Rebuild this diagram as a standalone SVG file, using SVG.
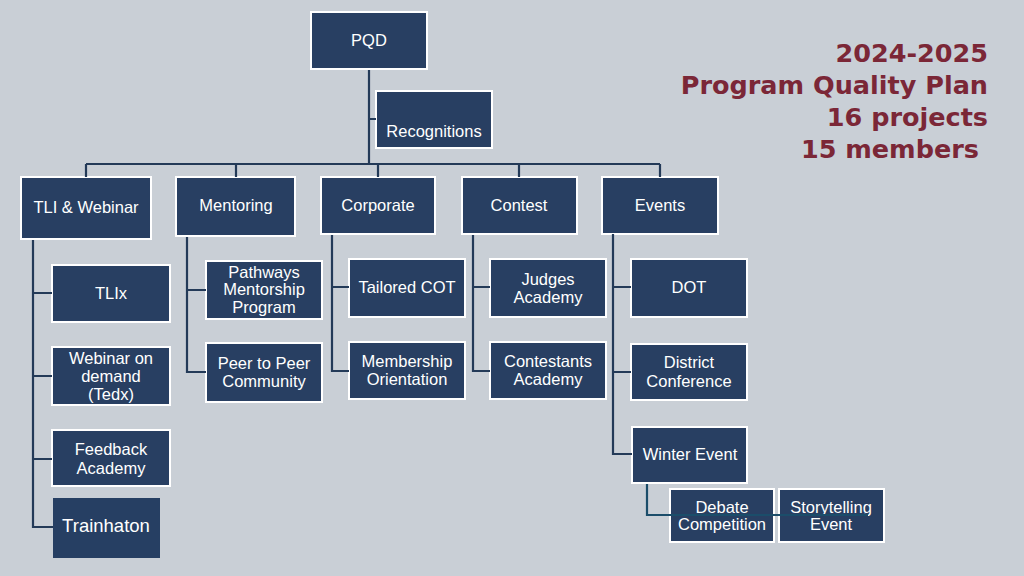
<svg xmlns="http://www.w3.org/2000/svg" width="1024" height="576" viewBox="0 0 1024 576">
<style>
.bx{fill:#283f62;stroke:#ffffff;stroke-width:2}
.bx2{fill:#263f63}
.t{font-family:"Liberation Sans",Arial,sans-serif;font-size:16.5px;fill:#ffffff;text-anchor:middle}
.tb{font-family:"Liberation Sans",Arial,sans-serif;font-size:18.5px;fill:#ffffff;text-anchor:middle}
.c{fill:none;stroke:#233a58;stroke-width:2.2}
.c2{fill:none;stroke:#1b4d6a;stroke-width:2.2}
.h{font-family:"DejaVu Sans","Open Sans",sans-serif;font-weight:700;font-size:25.5px;fill:#7b2737;text-anchor:end}
</style>
<rect width="1024" height="576" fill="#c9cfd6"/>
<g id="title">
<text class="h" x="988" y="62">2024-2025</text>
<text class="h" x="988" y="94">Program Quality Plan</text>
<text class="h" x="988" y="126">16 projects</text>
<text class="h" x="979" y="158">15 members</text>
</g>
<g id="pqd"><rect class="bx" x="311" y="12" width="116" height="57"/><text class="t" x="369" y="46">PQD</text></g>
<g id="recognitions"><rect class="bx" x="376" y="91" width="116" height="57"/><text class="t" x="434" y="137">Recognitions</text></g>
<g id="tli"><rect class="bx" x="21" y="177" width="130" height="62"/><text class="t" x="86" y="213">TLI &amp; Webinar</text></g>
<g id="mentoring"><rect class="bx" x="176" y="177" width="119" height="59"/><text class="t" x="236" y="211">Mentoring</text></g>
<g id="corporate"><rect class="bx" x="321" y="177" width="114" height="57"/><text class="t" x="378" y="211">Corporate</text></g>
<g id="contest"><rect class="bx" x="462" y="177" width="115" height="57"/><text class="t" x="519" y="211">Contest</text></g>
<g id="events"><rect class="bx" x="602" y="177" width="116" height="57"/><text class="t" x="660" y="211">Events</text></g>
<g id="tlix"><rect class="bx" x="52" y="265" width="118" height="57"/><text class="t" x="111" y="299">TLIx</text></g>
<g id="webinar"><rect class="bx" x="52" y="347" width="118" height="58"/><text class="t" x="111" y="364">Webinar on</text><text class="t" x="111" y="382">demand</text><text class="t" x="111" y="400">(Tedx)</text></g>
<g id="feedback"><rect class="bx" x="52" y="430" width="118" height="56"/><text class="t" x="111" y="455">Feedback</text><text class="t" x="111" y="474">Academy</text></g>
<g id="trainhaton"><rect class="bx2" x="53" y="498" width="107" height="60"/><text class="tb" x="106" y="532">Trainhaton</text></g>
<g id="pathways"><rect class="bx" x="206" y="261" width="116" height="58"/><text class="t" x="264" y="278">Pathways</text><text class="t" x="264" y="295">Mentorship</text><text class="t" x="264" y="313">Program</text></g>
<g id="peer"><rect class="bx" x="206" y="343" width="116" height="59"/><text class="t" x="264" y="369">Peer to Peer</text><text class="t" x="264" y="387">Community</text></g>
<g id="tailored"><rect class="bx" x="349" y="259" width="116" height="58"/><text class="t" x="407" y="293">Tailored  COT</text></g>
<g id="membership"><rect class="bx" x="349" y="342" width="116" height="57"/><text class="t" x="407" y="367">Membership</text><text class="t" x="407" y="385">Orientation</text></g>
<g id="judges"><rect class="bx" x="490" y="259" width="116" height="58"/><text class="t" x="548" y="285">Judges</text><text class="t" x="548" y="303">Academy</text></g>
<g id="contestants"><rect class="bx" x="490" y="342" width="116" height="57"/><text class="t" x="548" y="367">Contestants</text><text class="t" x="548" y="385">Academy</text></g>
<g id="dot"><rect class="bx" x="631" y="259" width="116" height="58"/><text class="t" x="689" y="293">DOT</text></g>
<g id="district"><rect class="bx" x="631" y="344" width="116" height="56"/><text class="t" x="689" y="368">District</text><text class="t" x="689" y="387">Conference</text></g>
<g id="winter"><rect class="bx" x="632" y="427" width="115" height="56"/><text class="t" x="690" y="460">Winter Event</text></g>
<g id="debate"><rect class="bx" x="670" y="489" width="104" height="53"/><text class="t" x="722" y="513">Debate</text><text class="t" x="722" y="530">Competition</text></g>
<g id="storytelling"><rect class="bx" x="779" y="489" width="105" height="53"/><text class="t" x="831" y="513">Storytelling</text><text class="t" x="831" y="530">Event</text></g>
<g id="connectors">
<path class="c" d="M369 70 V164 M369 119 H376 M86 164 H660 M86 164 V177 M236 164 V177 M378 164 V177 M519 164 V177 M660 164 V177"/>
<path class="c" d="M33 240 V527 H53 M33 293 H52 M33 376 H52 M33 459 H52"/>
<path class="c" d="M187 237 V372 H206 M187 290 H206"/>
<path class="c" d="M332 235 V371 H349 M332 287 H349"/>
<path class="c" d="M473 235 V371 H490 M473 287 H490"/>
<path class="c" d="M613 234 V454 H632 M613 287 H631 M613 372 H631"/>
<path class="c2" d="M647 484 V515 H868"/>
</g>
</svg>
